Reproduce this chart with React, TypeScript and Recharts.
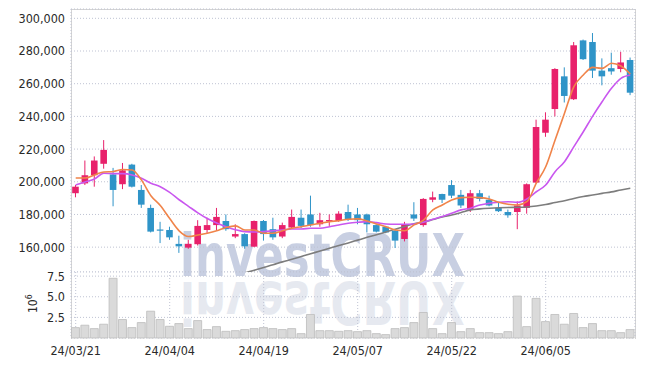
import React from 'react';
import { ComposedChart, Bar, Line, XAxis, YAxis, CartesianGrid } from 'recharts';

const DATES = [
  '24/03/21', '24/03/22', '24/03/25', '24/03/26', '24/03/27', '24/03/28', '24/03/29', '24/04/01', '24/04/02', '24/04/03',
  '24/04/04', '24/04/05', '24/04/08', '24/04/09', '24/04/11', '24/04/12', '24/04/15', '24/04/16', '24/04/17', '24/04/18',
  '24/04/19', '24/04/22', '24/04/23', '24/04/24', '24/04/25', '24/04/26', '24/04/29', '24/04/30', '24/05/02', '24/05/03',
  '24/05/07', '24/05/08', '24/05/09', '24/05/10', '24/05/13', '24/05/14', '24/05/16', '24/05/17', '24/05/20', '24/05/21',
  '24/05/22', '24/05/23', '24/05/24', '24/05/27', '24/05/28', '24/05/29', '24/05/30', '24/05/31', '24/06/03', '24/06/04',
  '24/06/05', '24/06/07', '24/06/10', '24/06/11', '24/06/12', '24/06/13', '24/06/14', '24/06/17', '24/06/18', '24/06/19',
];

const OPEN = [
  193000, 199000, 204000, 211000, 204500, 198500, 210500, 195000, 184000, 170800,
  170500, 162000, 159700, 161800, 170500, 173500, 176000, 166500, 168000, 160300,
  176000, 171000, 166500, 172000, 178000, 180000, 174000, 176000, 176000, 181500,
  180000, 180000, 173500, 172500, 170000, 165000, 180000, 173500, 189000, 192500,
  198000, 192000, 183000, 193000, 189000, 184000, 181500, 181500, 184000, 199500,
  230000, 244500, 264500, 250500, 286500, 285500, 268000, 269500, 269000, 274500,
];
const HIGH = [
  198000, 213000, 215500, 225500, 208500, 211500, 211000, 198000, 186000, 175500,
  172500, 167000, 164500, 176500, 178000, 184000, 180000, 174000, 168500, 176300,
  176600, 178000, 175000, 183000, 183000, 191500, 181000, 180000, 182000, 186000,
  184000, 180500, 174000, 173000, 171000, 175500, 187500, 190000, 194000, 192700,
  201000, 195000, 195000, 195000, 191500, 187000, 183000, 188000, 199000, 238000,
  242500, 269500, 270000, 285500, 287000, 291000, 275500, 279000, 279500, 276000,
];
const LOW = [
  190500, 198000, 197000, 208000, 185000, 195500, 196500, 184000, 169000, 162500,
  164500, 156500, 159000, 161000, 168500, 170500, 170000, 165500, 159000, 160000,
  164000, 164500, 165500, 171500, 171500, 172500, 172500, 173000, 175500, 176000,
  174000, 169000, 169000, 168500, 159500, 163500, 176000, 172500, 187500, 187000,
  190000, 184000, 181500, 188000, 185000, 181500, 178000, 171000, 180500, 199000,
  227500, 240000, 248500, 250000, 274500, 263500, 259000, 265500, 267000, 253000,
];
const CLOSE = [
  197000, 204000, 213000, 219500, 195000, 207000, 197000, 186000, 169500, 170300,
  166000, 160500, 162000, 173000, 173500, 178500, 171000, 168000, 160500, 176000,
  168000, 166000, 173500, 178500, 173000, 173500, 176500, 176600, 180500, 177000,
  176500, 174000, 169500, 169000, 164000, 174000, 177500, 189500, 190500, 189000,
  191500, 185500, 193000, 189500, 185500, 182000, 179500, 185500, 198500, 233500,
  238000, 269000, 252500, 283500, 275000, 268000, 264500, 267500, 273000, 254500,
];

const MA5 = [
  202300, 202300, 204200, 206000, 206300, 207500, 207200, 201000, 191500, 185500,
  177500, 170000, 166500, 167400, 168500, 170000, 172000, 173000, 170500, 170500,
  168500, 168500, 170000, 171600, 172500, 173600, 174600, 175600, 176200, 177100,
  177300, 176000, 174200, 172500, 170500, 170000, 173600, 176600, 182800, 185800,
  188900, 190300, 190500, 190300, 189500, 187500, 186200, 185800, 187800, 199100,
  209200, 225600, 241900, 258200, 265300, 270000, 269400, 272500, 270800, 265900,
];
const MA20 = [
  198000, 199900, 201700, 205200, 205000, 205000, 204200, 202100, 199100, 197000,
  193500, 189000, 185000, 181000, 177500, 174800, 172500, 170700, 169500, 169300,
  169500, 170000, 170500, 171100, 171100, 171600, 171600, 172500, 173600, 174600,
  175200, 175600, 175000, 174200, 174000, 174000, 174200, 175200, 177100, 178700,
  180700, 182800, 183800, 185800, 186900, 187500, 187800, 187500, 189500, 193900,
  198000, 206200, 212300, 221500, 230600, 240200, 249000, 257200, 263300, 265300,
];
const MA_LONG = [
  null, null, null, null, null, null, null, null, null, null,
  null, null, null, null, null, null, null, 142500, 144200, 145900,
  147600, 149200, 151000, 152600, 154300, 156000, 157600, 159300, 161000, 162600,
  164300, 166000, 167600, 169300, 171000, 172700, 174300, 175400, 176900, 178500,
  179700, 181200, 182800, 183400, 183800, 184100, 184300, 184400, 184600, 185200,
  186100, 187300, 188400, 189800, 191000, 191900, 192900, 193800, 195000, 196000,
];

// volume in millions of shares
const VOLUME = [
  1.26, 1.55, 1.14, 1.67, 7.24, 2.24, 1.26, 1.87, 3.25, 2.24,
  1.42, 1.75, 1.14, 2.11, 1.02, 1.38, 0.81, 0.89, 1.02, 1.14,
  1.26, 1.14, 1.02, 1.14, 0.53, 2.85, 0.89, 0.89, 0.81, 0.89,
  0.77, 0.89, 0.53, 0.41, 1.14, 1.26, 1.87, 3.09, 1.14, 0.53,
  1.87, 0.77, 1.14, 0.65, 0.65, 0.53, 0.77, 5.08, 1.38, 4.8,
  1.99, 2.85, 1.67, 2.97, 1.26, 1.75, 0.89, 0.89, 0.65, 1.02,
];

const PRICE_TICKS = [160000, 180000, 200000, 220000, 240000, 260000, 280000, 300000];
const VOL_TICKS = [2.5, 5, 7.5];

const UP = '#e8216b';
const DOWN = '#2f94c8';
const FONT = '"DejaVu Sans Condensed", "DejaVu Sans", sans-serif';
const GRID = '#bfc3d3';

const rows = DATES.map((date, i) => ({
  date,
  open: OPEN[i],
  high: HIGH[i],
  low: LOW[i],
  close: CLOSE[i],
  ma5: MA5[i],
  ma20: MA20[i],
  maLong: MA_LONG[i],
  vol: VOLUME[i],
}));

const Candle = (props: any) => {
  const { x, y, width, height, payload } = props;
  if (x == null || y == null) return null;
  const top = Math.min(y, y + height);
  const bottom = Math.max(y, y + height);
  const { open, high, low, close } = payload;
  const span = high - low || 1;
  const py = (v: number) => top + ((high - v) / span) * (bottom - top);
  const color = close >= open ? UP : DOWN;
  const cx = x + width / 2;
  const bTop = py(Math.max(open, close));
  const bBot = py(Math.min(open, close));
  return (
    <g>
      <line x1={cx} x2={cx} y1={top} y2={bottom} stroke={color} strokeWidth={1} />
      <rect x={cx - 3.3} y={bTop} width={6.6} height={Math.max(1.2, bBot - bTop)} fill={color} />
    </g>
  );
};

const tickStyle = { fontSize: 12.5, fill: '#2a2a2a', fontFamily: FONT };

export default function App() {
  return (
    <div style={{ position: 'absolute', left: 0, top: 0, width: 645, height: 366, background: '#fff' }}>
      {/* watermark */}
      <svg width={645} height={366} style={{ position: 'absolute', left: 0, top: 0 }}>
        <text x={180} y={276} fontSize={58} fontWeight="bold" fontFamily={FONT} textLength={285}
          lengthAdjust="spacingAndGlyphs" fill="#c8cfe2">investCRUX</text>
        <text x={180} y={276} fontSize={58} fontWeight="bold" fontFamily={FONT} textLength={285}
          lengthAdjust="spacingAndGlyphs" fill="#e6e9f0" transform="translate(0 558) scale(1 -1)">investCRUX</text>
      </svg>
      <div style={{ position: 'absolute', left: 71, top: 9, width: 563, height: 329, borderTop: '1px solid #d4d4d4',
        borderLeft: '1px solid #d4d4d4', borderRight: '1px solid #d4d4d4' }} />
      <div style={{ position: 'absolute', left: 0, top: 262 }}>
        <ComposedChart width={645} height={104} data={rows} margin={{ top: 10, right: 10, left: 0, bottom: 0 }}
          barCategoryGap="5%">
          <CartesianGrid stroke={GRID} strokeDasharray="1 2" />
          <XAxis dataKey="date" interval={9} height={28} tick={tickStyle} tickLine={false} axisLine={false} />
          <YAxis domain={[0, 8]} ticks={VOL_TICKS} interval={0} width={71} tick={tickStyle} tickLine={false}
            axisLine={false} tickSize={4} tickFormatter={(v: number) => v.toFixed(1)} />
          <Bar dataKey="vol" fill="#dadada" stroke="#bdbdbd" strokeWidth={0.8} isAnimationActive={false} />
        </ComposedChart>
      </div>
      <div style={{ position: 'absolute', left: 0, top: 0 }}>
        <ComposedChart width={645} height={272} data={rows} margin={{ top: 9, right: 10, left: 0, bottom: 0 }}
          barCategoryGap="5%">
          <CartesianGrid stroke={GRID} strokeDasharray="1 2" />
          <XAxis dataKey="date" interval={9} height={0} tick={false} tickLine={false}
            axisLine={{ stroke: '#c4c4c4', strokeWidth: 1.5 }} />
          <YAxis domain={[144800, 305700]} allowDataOverflow ticks={PRICE_TICKS} interval={0} width={71}
            tick={tickStyle} tickLine={false} axisLine={false} tickSize={4}
            tickFormatter={(v: number) => v.toLocaleString('en-US')} />
          <Bar dataKey={(d: any) => [d.low, d.high]} shape={<Candle />} isAnimationActive={false} />
          <Line dataKey="maLong" type="monotone" stroke="#7d7d7d" strokeWidth={1.6} dot={false}
            isAnimationActive={false} />
          <Line dataKey="ma20" type="monotone" stroke="#c957ef" strokeWidth={1.6} dot={false}
            isAnimationActive={false} />
          <Line dataKey="ma5" type="monotone" stroke="#f0844a" strokeWidth={1.6} dot={false}
            isAnimationActive={false} />
        </ComposedChart>
      </div>
      <svg width={60} height={366} style={{ position: 'absolute', left: 0, top: 0 }}>
        <text transform="translate(37 313) rotate(-90)" fontSize={12} fontFamily={FONT} fill="#2a2a2a">
          10<tspan dy={-5} fontSize={8.5}>6</tspan>
        </text>
      </svg>
    </div>
  );
}
